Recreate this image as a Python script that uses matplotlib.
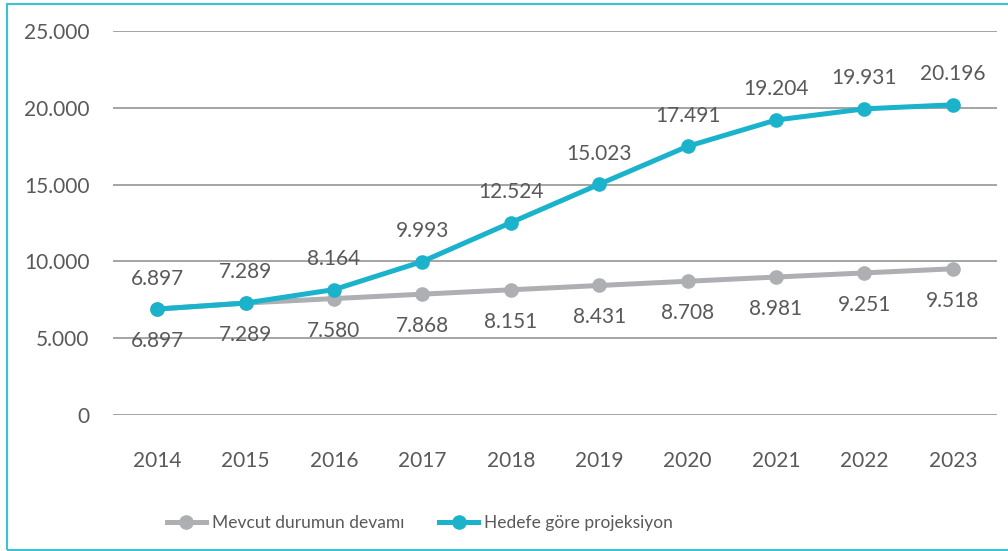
import matplotlib.pyplot as plt
from matplotlib.patches import Rectangle
from matplotlib.ticker import FuncFormatter

plt.rcParams['font.family'] = ['Lato', 'DejaVu Sans']

years = ['2014', '2015', '2016', '2017', '2018', '2019', '2020', '2021', '2022', '2023']
mevcut = [6897, 7289, 7580, 7868, 8151, 8431, 8708, 8981, 9251, 9518]
hedef = [6897, 7289, 8164, 9993, 12524, 15023, 17491, 19204, 19931, 20196]
series_names = ['Mevcut durumun devamı', 'Hedefe göre projeksiyon']

text_col = '#595959'
gray = '#AEAFB3'
teal = '#1AB3CB'
fs = 15


def fmt(v, pos=None):
    return f"{int(v):,}".replace(",", ".")


W, H = 1008, 551
fig = plt.figure(figsize=(W / 100, H / 100), dpi=100)
ax = fig.add_axes([113 / W, 1 - 415 / H, (997 - 113) / W, (415 - 31) / H])

x = list(range(len(years)))
ax.plot(x, mevcut, color=gray, lw=3.6, marker='o', ms=9.5, label=series_names[0], zorder=3)
ax.plot(x, hedef, color=teal, lw=3.6, marker='o', ms=9.5, label=series_names[1], zorder=4)

for i, v in enumerate(hedef):
    ax.annotate(fmt(v), (i, v), xytext=(0, 22), textcoords='offset points',
                ha='center', va='center', fontsize=fs, color=text_col)
for i, v in enumerate(mevcut):
    ax.annotate(fmt(v), (i, v), xytext=(0, -23), textcoords='offset points',
                ha='center', va='center', fontsize=fs, color=text_col)

ax.set_xlim(-0.5, len(years) - 0.5)
ax.set_ylim(0, 25000)
ax.set_yticks(range(0, 25001, 5000))
ax.yaxis.set_major_formatter(FuncFormatter(fmt))
ax.set_xticks(x)
ax.set_xticklabels(years)
ax.grid(axis='y', color='#8C8C8C', lw=1.1)
ax.set_axisbelow(True)
for s in ax.spines.values():
    s.set_visible(False)
ax.tick_params(axis='y', length=0, pad=17, labelsize=fs, labelcolor=text_col)
ax.tick_params(axis='x', length=0, pad=26, labelsize=fs, labelcolor=text_col)

fig.legend(loc='center', bbox_to_anchor=(420 / W, 1 - 523 / H), ncol=2, frameon=False,
           fontsize=12.5, labelcolor=text_col, handlelength=2.25, handletextpad=0.35,
           columnspacing=2.0)

fig.patches.append(Rectangle((7 / W, 1 / H), 1.1, 1 - 5 / H, transform=fig.transFigure,
                             fill=False, edgecolor='#3EC1D3', lw=1.5))

fig.savefig('out.png', dpi=100)
